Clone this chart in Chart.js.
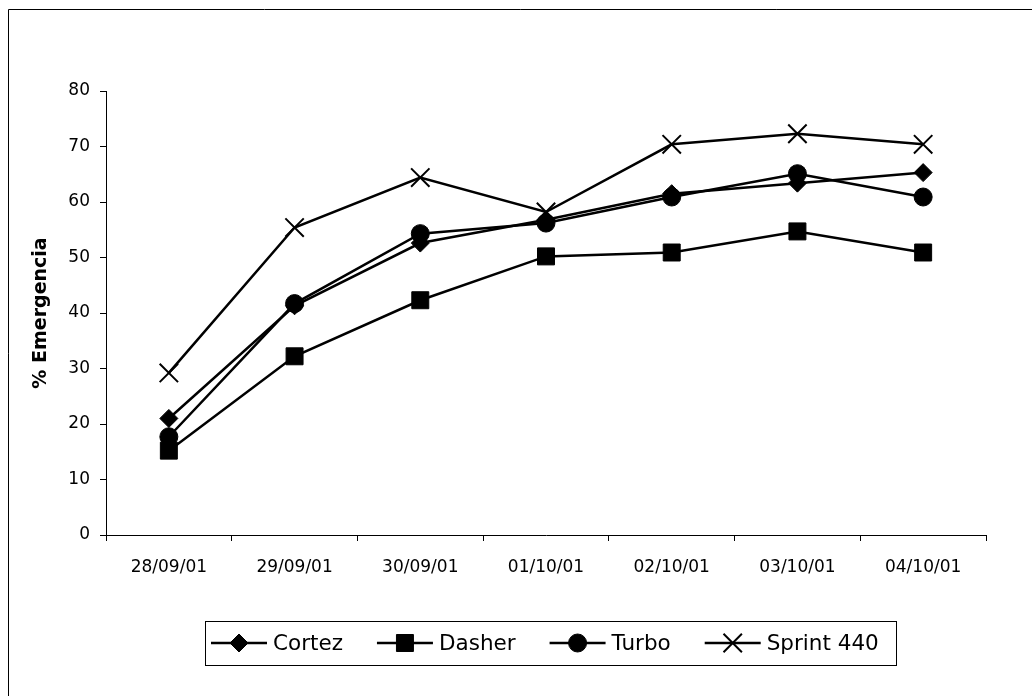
<!DOCTYPE html>
<html>
<head>
<meta charset="utf-8">
<script src="https://cdn.jsdelivr.net/npm/chart.js@4/dist/chart.umd.min.js"></script>
<style>
  html, body { margin: 0; padding: 0; background: #ffffff; }
  #wrap { width: 1032px; height: 696px; position: relative; }
</style>
</head>
<body>
<div id="wrap"><canvas id="chart" width="1032" height="696"></canvas></div>
<script>
// Emergence (%) of four varieties by sampling date
const categories = ['28/09/01', '29/09/01', '30/09/01', '01/10/01', '02/10/01', '03/10/01', '04/10/01'];
const cortez    = [21.0, 41.3, 52.6, 56.8, 61.5, 63.4, 65.3];
const dasher    = [15.2, 32.2, 42.3, 50.2, 50.9, 54.7, 50.9];
const turbo     = [17.7, 41.7, 54.3, 56.2, 60.9, 65.1, 60.9];
const sprint440 = [29.2, 55.4, 64.4, 58.2, 70.4, 72.3, 70.4];
const yTicks    = [0, 10, 20, 30, 40, 50, 60, 70, 80];
const seriesNames = ['Cortez', 'Dasher', 'Turbo', 'Sprint 440'];

const FONT = '"DejaVu Sans", "Liberation Sans", Arial, sans-serif';

function series(label, data, pointStyle, radius, borderWidth) {
  return {
    label, data, pointStyle,
    borderColor: '#000', backgroundColor: '#000',
    borderWidth: 2.5, tension: 0,
    pointRadius: radius, pointHoverRadius: radius,
    pointBackgroundColor: '#000', pointBorderColor: '#000',
    pointBorderWidth: borderWidth
  };
}

const datasets = [
  series(seriesNames[0], cortez, 'rectRot', 9, 1),
  series(seriesNames[1], dasher, 'rect', 12, 1),
  series(seriesNames[2], turbo, 'circle', 9, 1),
  series(seriesNames[3], sprint440, 'crossRot', 13, 2)
];

// Fallback marker painter in case helpers are not exposed
function paintMarker(ctx, ds, x, y) {
  if (Chart.helpers && Chart.helpers.drawPoint) {
    Chart.helpers.drawPoint(ctx, {
      pointStyle: ds.pointStyle, radius: ds.pointRadius,
      borderWidth: ds.pointBorderWidth, rotation: 0
    }, x, y);
    return;
  }
  const r = ds.pointRadius;
  ctx.beginPath();
  if (ds.pointStyle === 'circle') { ctx.arc(x, y, r, 0, Math.PI * 2); ctx.fill(); }
  else if (ds.pointStyle === 'rect') { const s = r * Math.SQRT1_2; ctx.rect(x - s, y - s, 2 * s, 2 * s); ctx.fill(); }
  else if (ds.pointStyle === 'rectRot') { ctx.moveTo(x - r, y); ctx.lineTo(x, y - r); ctx.lineTo(x + r, y); ctx.lineTo(x, y + r); ctx.closePath(); ctx.fill(); }
  else { const s = r * Math.SQRT1_2; ctx.moveTo(x - s, y - s); ctx.lineTo(x + s, y + s); ctx.moveTo(x + s, y - s); ctx.lineTo(x - s, y + s); ctx.stroke(); }
}

// Outer frame and boxed legend with line + marker samples
const frameAndLegend = {
  id: 'frameAndLegend',
  beforeDraw(chart) {
    const ctx = chart.ctx;
    ctx.save();
    ctx.strokeStyle = '#000';
    ctx.lineWidth = 1;
    ctx.beginPath();
    ctx.moveTo(8.5, 700);
    ctx.lineTo(8.5, 9.5);
    ctx.lineTo(1032, 9.5);
    ctx.stroke();
    ctx.restore();
  },
  afterDraw(chart) {
    const ctx = chart.ctx;
    ctx.save();
    ctx.font = '21.5px ' + FONT;
    ctx.textBaseline = 'middle';
    ctx.textAlign = 'left';
    const boxL = 205, boxT = 621, boxH = 44;
    const cy = boxT + boxH / 2;
    let x = boxL + 6;
    let end = x;
    chart.data.datasets.forEach((ds) => {
      ctx.strokeStyle = '#000';
      ctx.fillStyle = '#000';
      ctx.lineWidth = 2.5;
      ctx.beginPath();
      ctx.moveTo(x, cy);
      ctx.lineTo(x + 56, cy);
      ctx.stroke();
      ctx.lineWidth = ds.pointBorderWidth;
      paintMarker(ctx, ds, x + 28, cy);
      ctx.fillStyle = '#000';
      ctx.fillText(ds.label, x + 62, cy + 1);
      end = x + 62 + ctx.measureText(ds.label).width;
      x = end + 34;
    });
    ctx.strokeStyle = '#000';
    ctx.lineWidth = 1;
    ctx.strokeRect(boxL + 0.5, boxT + 0.5, Math.round(end + 17 - boxL), boxH);
    ctx.restore();
  }
};

new Chart(document.getElementById('chart'), {
  type: 'line',
  data: { labels: categories, datasets },
  options: {
    responsive: false,
    animation: false,
    devicePixelRatio: 1,
    layout: { padding: { left: 0, top: 91, right: 46, bottom: 111 } },
    plugins: {
      legend: { display: false },
      tooltip: { enabled: false },
      title: { display: false }
    },
    scales: {
      x: {
        type: 'category',
        offset: true,
        grid: {
          offset: true, drawOnChartArea: false, drawTicks: true,
          tickLength: 6, color: '#000', lineWidth: 1
        },
        border: { display: true, color: '#000', width: 1 },
        ticks: {
          color: '#000', font: { family: FONT, size: 17 },
          padding: 16, maxRotation: 0, autoSkip: false
        },
        afterFit(scale) { scale.height = 50; }
      },
      y: {
        min: 0, max: 80,
        afterBuildTicks(scale) { scale.ticks = yTicks.map(v => ({ value: v })); },
        grid: {
          drawOnChartArea: false, drawTicks: true,
          tickLength: 6, color: '#000', lineWidth: 1
        },
        border: { display: true, color: '#000', width: 1 },
        ticks: { color: '#000', font: { family: FONT, size: 17 }, padding: 10 },
        title: {
          display: true, text: '% Emergencia', color: '#000',
          font: { family: FONT, size: 19, weight: 'bold' },
          padding: { top: 30, bottom: 0 }
        },
        afterFit(scale) { scale.width = 106; }
      }
    }
  },
  plugins: [frameAndLegend]
});
</script>
</body>
</html>
